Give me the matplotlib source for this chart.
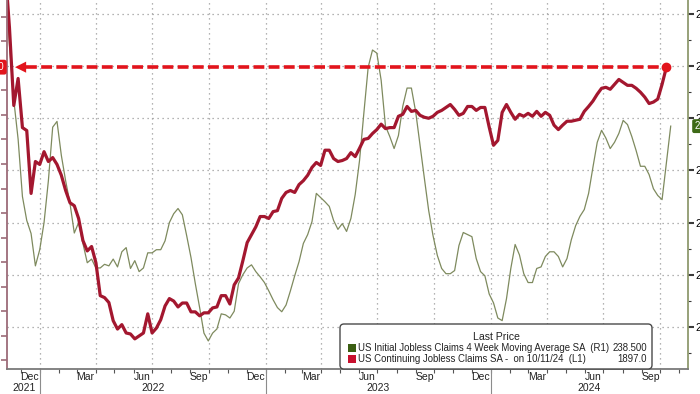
import numpy as np
import pandas as pd
import matplotlib
matplotlib.use("Agg")
import matplotlib.pyplot as plt
import matplotlib.dates as mdates
from matplotlib.transforms import blended_transform_factory
from matplotlib.patches import FancyBboxPatch, Rectangle

plt.rcParams['font.family'] = ['Liberation Sans', 'DejaVu Sans']

# weekly readings, first week 2021-11-05
continuing_claims = [
    2100,
    1977, 1819, 1874, 1774, 1768, 1640, 1705, 1699, 1725, 1705,
    1713, 1699, 1677, 1646, 1621, 1615, 1589, 1544, 1523, 1532,
    1499, 1432, 1428, 1418, 1381, 1364, 1373, 1356, 1354, 1344,
    1350, 1356, 1395, 1356, 1366, 1383, 1411, 1426, 1421, 1409,
    1417, 1417, 1399, 1399, 1391, 1397, 1397, 1407, 1409, 1432,
    1432, 1415, 1454, 1468, 1503, 1540, 1556, 1572, 1593, 1593,
    1589, 1603, 1605, 1630, 1642, 1646, 1642, 1658, 1666, 1677,
    1693, 1703, 1697, 1728, 1728, 1711, 1705, 1707, 1711, 1723,
    1715, 1732, 1750, 1752, 1762, 1770, 1781, 1772, 1774, 1774,
    1797, 1801, 1817, 1807, 1809, 1799, 1795, 1793, 1797, 1805,
    1809, 1815, 1821, 1811, 1799, 1803, 1817, 1817, 1809, 1815,
    1815, 1775, 1738, 1748, 1805, 1821, 1805, 1791, 1801, 1797,
    1803, 1797, 1807, 1797, 1805, 1799, 1779, 1770, 1779, 1787,
    1787, 1789, 1791, 1807, 1817, 1828, 1842, 1854, 1856, 1852,
    1862, 1872, 1866, 1860, 1860, 1854, 1846, 1836, 1823, 1826,
    1832, 1862, 1897.0,
]

initial_claims_4wk = [
    268,
    254, 243.5, 236, 225, 220.4, 217.9, 211.7, 214.8, 220, 228,
    238.3, 239.4, 232.9, 228, 223.7, 218, 220, 216, 212.3, 213,
    211.3, 211.3, 212, 211.7, 213, 211.5, 214.4, 215.2, 211.2, 212.7,
    210.6, 211.3, 214.2, 214.2, 214.8, 214.8, 216.5, 220, 221.7, 222.7,
    221.5, 217.5, 213.3, 208.3, 203.7, 198.8, 197.3, 198.8, 199.6, 202.5,
    202.3, 201.7, 203, 208.3, 210, 211.3, 211.9, 210.6, 209.6, 208.5,
    206.9, 205.2, 203.7, 202.9, 204.2, 206.9, 209.8, 212.5, 216, 217.7,
    220.2, 225.6, 224.8, 224, 223.1, 220.4, 218.7, 219.8, 218.3, 220.8,
    225.4, 231.9, 241, 249.8, 253.1, 252.5, 247.3, 238.5, 236.5, 234.2,
    236.7, 242.3, 245.8, 245.8, 241.2, 234.8, 228.5, 222.3, 217.5, 213.7,
    211.2, 210.2, 210.2, 210.8, 215.6, 218.1, 217.7, 217.3, 213.1, 210.6,
    209.8, 206.3, 204.6, 201.7, 201.2, 205.4, 211.2, 215.8, 213.8, 210.2,
    208.5, 208.5, 211.2, 211.5, 213.5, 214.4, 214.4, 213.5, 211.5, 213.1,
    216.7, 219.4, 221.2, 222.5, 225.6, 230.6, 235.4, 237.7, 236.2, 234.2,
    235.4, 237.1, 239.6, 238.8, 236.5, 233.8, 230.8, 230.8, 229.2, 226.5,
    225.2, 224.4, 231.5, 238.5,
]

series_names = ['US Initial Jobless Claims 4 Week Moving Average SA  (R1)',
                'US Continuing Jobless Claims SA -  on 10/11/24  (L1)']
last_labels = ['238.500', '1897.0']
years = [2021, 2022, 2023, 2024]

start_week = '2021-11-05'
cont_dates = pd.date_range(start_week, periods=len(continuing_claims), freq='7D')
init_dates = pd.date_range(start_week, periods=len(initial_claims_4wk), freq='7D')

RED = '#a3172f'
DASH_RED = '#e2141c'
GREEN = '#7e8a5e'
GREEN_TAG = '#3e6a17'
LEG_GREEN = '#3b5e12'
LEG_RED = '#c8102e'
GRID = '#9a9a9a'

fig = plt.figure(figsize=(7, 3.94), dpi=100)
ax = fig.add_axes([7 / 700, 25 / 394, 681 / 700, 369 / 394])
ax2 = ax.twinx()

x0, x1 = pd.Timestamp('2021-11-08'), pd.Timestamp('2024-11-15')

# initial claims on host axis (right scale), continuing on twin (left scale) so it sits on top
ax.plot(init_dates, initial_claims_4wk, color=GREEN, lw=0.9)
ax2.plot(cont_dates, continuing_claims, color=RED, lw=2.3, solid_joinstyle='round')

ax.set_xlim(x0, x1)
ax.set_ylim(191.92, 262.69)
ax2.set_ylim(1282.7, 2033.7)

# grid
ax.set_axisbelow(True)
ax.yaxis.grid(True, which='major', color=GRID, ls=(0, (1, 3)), lw=0.9)
for d in pd.date_range('2022-01-01', x1, freq='QS'):
    ax.axvline(d, color=GRID, ls=(0, (1, 3)), lw=0.9, zorder=0.5)

# y axes
ax.yaxis.tick_right()
ax.set_yticks(np.arange(200, 261, 10))
ax.set_yticks(np.arange(195, 262, 10), minor=True)
ax.yaxis.set_major_formatter(plt.FuncFormatter(lambda v, p: f'{v:.0f}'))
ax.tick_params(axis='y', which='major', direction='out', length=4, width=1.5,
               color='#3a3a3a', labelsize=7.5, pad=1.5)
ax.tick_params(axis='y', which='minor', direction='out', length=2.5, width=0.8,
               color='#3a3a3a')

ax2.yaxis.tick_left()
ax2.set_yticks(np.arange(1300, 2001, 50))
ax2.tick_params(axis='y', which='major', direction='out', length=4, width=1.2,
                color='#9c6b78', labelleft=False, labelright=False)

for s in ax.spines.values():
    s.set_visible(False)
ax2.spines['top'].set_visible(False)
ax2.spines['left'].set_color('#9c6b78')
ax2.spines['right'].set_color('#8f9a6e')
ax2.spines['bottom'].set_color('#7a7a7a')
for k in ('left', 'right', 'bottom'):
    ax2.spines[k].set_linewidth(1.3)

# x axis
ax.xaxis.set_major_locator(mdates.MonthLocator(bymonth=[3, 6, 9, 12], bymonthday=15))
ax.xaxis.set_major_formatter(mdates.DateFormatter('%b'))
ax.xaxis.set_minor_locator(mdates.MonthLocator())
ax.tick_params(axis='x', which='major', length=0, labelsize=7.5, pad=2.5, colors='#222222')
ax.tick_params(axis='x', which='minor', direction='out', length=3, width=0.8, color='#555555')

trans = blended_transform_factory(ax.transData, ax.transAxes)
for y in years:
    a = max(x0, pd.Timestamp(y, 1, 1))
    b = min(x1, pd.Timestamp(y + 1, 1, 1))
    ax.text(a + (b - a) / 2, -0.052, str(y), transform=trans, ha='center', va='center',
            fontsize=7.5, color='#222222')
    if y > years[0]:
        ax.plot([a, a], [0, -0.075], transform=trans, clip_on=False, color='#8c8c8c', lw=0.8)

# last-value marker on continuing claims
last_date, last_val = cont_dates[-1], continuing_claims[-1]
tip = x0 + pd.Timedelta(days=13)
ax2.annotate('', xy=(tip, last_val), xytext=(tip + pd.Timedelta(days=20), last_val),
             arrowprops=dict(arrowstyle='-|>,head_length=0.8,head_width=0.4',
                             color=DASH_RED, lw=0, shrinkA=0, shrinkB=0))
ax2.plot([tip + pd.Timedelta(days=18), last_date], [last_val, last_val],
         color=DASH_RED, lw=2.6, ls=(0, (3.0, 1.2)))
ax2.plot(last_date, last_val, 'o', ms=6, color=DASH_RED)

# axis tags
ax2.text(-0.004, last_val, last_labels[1], transform=blended_transform_factory(ax2.transAxes, ax2.transData),
         ha='right', va='center', color='white', fontsize=7, clip_on=False,
         bbox=dict(boxstyle='round,pad=0.25', fc=DASH_RED, ec='none'))
ax.text(1.009, initial_claims_4wk[-1], last_labels[0],
        transform=blended_transform_factory(ax.transAxes, ax.transData),
        ha='left', va='center', color='white', fontsize=7, clip_on=False, zorder=5,
        bbox=dict(boxstyle='round,pad=0.2', fc=GREEN_TAG, ec='none'))

# legend box (pixel positions via inches)
it = fig.dpi_scale_trans
box = FancyBboxPatch((3.40, 0.25), 3.12, 0.45, boxstyle='round,pad=0,rounding_size=0.04',
                     transform=it, fc='white', ec='#4a4a4a', lw=1.0, zorder=10)
fig.patches.append(box)
fig.text(4.96, (394 - 337) / 100, 'Last Price', transform=it, ha='center', va='center',
         fontsize=7.6, color='#222222', zorder=11)
for i, (name, val, col) in enumerate(zip(series_names, last_labels, [LEG_GREEN, LEG_RED])):
    yc = (394 - (348.3 + 11 * i)) / 100
    fig.patches.append(Rectangle((3.48, yc - 0.04), 0.08, 0.08, transform=it, fc=col, ec='none', zorder=11))
    fig.text(3.58, yc, name, transform=it, ha='left', va='center', fontsize=6.9, color='#222222', zorder=11)
    fig.text(6.47, yc, val, transform=it, ha='right', va='center', fontsize=6.9, color='#222222', zorder=11)

fig.savefig('out.png', dpi=100)
